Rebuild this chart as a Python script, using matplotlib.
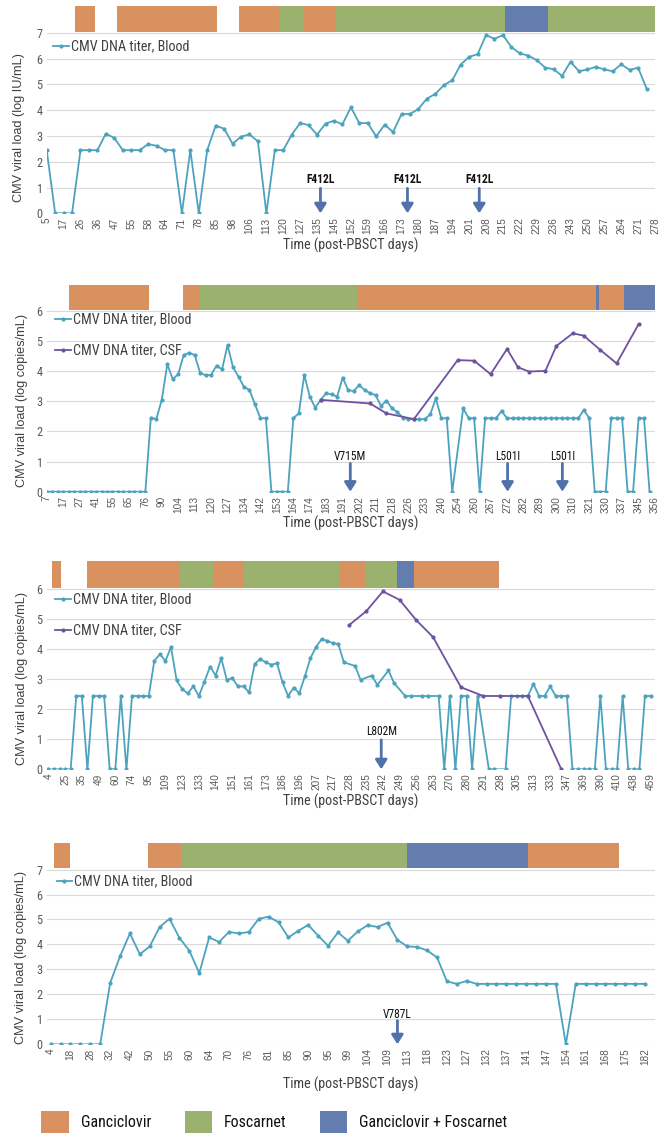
import numpy as np
import matplotlib
matplotlib.use('Agg')
import matplotlib.pyplot as plt
from matplotlib import font_manager as fm
from matplotlib.patches import Patch

nan = np.nan

# ---------------- data (x = sample index on a category axis) ----------------
# panel 1
p1_ticks = [5, 17, 26, 36, 47, 55, 58, 64, 71, 78, 85, 98, 106, 113, 120, 127, 135, 145, 152,
            159, 166, 173, 180, 187, 194, 201, 208, 215, 222, 229, 236, 243, 250, 257, 264, 271, 278]
p1_blood = [2.45, 0, 0, 0, 2.45, 2.45, 2.45, 3.09, 2.92, 2.45, 2.45, 2.45, 2.68, 2.62, 2.45, 2.45,
            0, 2.45, 0, 2.45, 3.40, 3.28, 2.70, 2.97, 3.06, 2.79, 0, 2.45, 2.45, 3.05, 3.50, 3.42,
            3.05, 3.48, 3.59, 3.45, 4.11, 3.50, 3.50, 2.98, 3.44, 3.15, 3.85, 3.85, 4.05, 4.45, 4.63,
            4.97, 5.16, 5.77, 6.07, 6.17, 6.91, 6.77, 6.91, 6.45, 6.20, 6.12, 5.94, 5.65, 5.59, 5.33,
            5.88, 5.51, 5.58, 5.68, 5.58, 5.51, 5.78, 5.56, 5.65, 4.84]
p1_tx = [(3.3, 5.7, 'G'), (8.3, 20.2, 'G'), (22.8, 27.6, 'G'), (27.6, 30.5, 'F'), (30.5, 34.2, 'G'),
         (34.2, 54.3, 'F'), (54.3, 59.3, 'B'), (59.3, 72.0, 'F')]
p1_mut = [(32.4, 'F412L'), (42.7, 'F412L'), (51.2, 'F412L')]

# panel 2
p2_ticks = [7, 17, 27, 41, 55, 65, 76, 90, 104, 113, 120, 127, 134, 142, 153, 164, 174, 183, 191,
            202, 211, 218, 226, 233, 240, 254, 260, 267, 272, 282, 289, 300, 310, 321, 330, 337, 345, 356]
p2_blood = [0, 0, 0, 0, 0, 0, 0, 0, 0, 0, 0, 0, 0, 0, 0, 0, 0, 0, 0,
            2.46, 2.41, 3.05, 4.23, 3.74, 3.90, 4.54, 4.61, 4.54, 3.95, 3.86, 3.88, 4.19, 4.06, 4.87,
            4.13, 3.82, 3.48, 3.38, 2.90, 2.44, 2.44, 0, 0, 0, 0, 2.44, 2.60, 3.88, 3.16, 2.79, 3.05,
            3.27, 3.23, 3.16, 3.79, 3.38, 3.34, 3.54, 3.38, 3.27, 3.21, 2.85, 3.02, 2.77, 2.64, 2.46,
            2.41, 2.41, 2.41, 2.41, 2.57, 3.10, 2.44, 2.44, 0, nan, 2.77, 2.44, 2.44, 0, 2.44, 2.44,
            2.44, 2.68, 2.44, 2.44, 2.44, 2.44, 2.44, 2.44, 2.44, 2.44, 2.44, 2.44, 2.44, 2.44, 2.44,
            2.44, 2.71, 2.44, 0, 0, 0, 2.44, 2.44, 2.44, 0, 0, 2.44, 2.44, 0, nan]
p2_csf_i = [50, 59, 62, 67, 75, 78, 81, 84, 86, 88, 91, 93, 96, 98, 101, 104, 108]
p2_csf = [3.05, 2.93, 2.60, 2.41, 4.37, 4.35, 3.90, 4.74, 4.13, 3.99, 4.01, 4.84, 5.26, 5.18,
          4.71, 4.26, 5.56]
p2_tx = [(4.0, 18.6, 'G'), (24.9, 27.8, 'G'), (27.8, 56.7, 'F'), (56.7, 100.2, 'G'),
         (100.2, 100.7, 'B'), (100.7, 105.3, 'G'), (105.3, 111.0, 'B')]
p2_mut = [(55.4, 'V715M'), (84.1, 'L501I'), (94.1, 'L501I')]

# panel 3
p3_ticks = [4, 25, 35, 49, 60, 74, 95, 109, 123, 133, 140, 151, 161, 173, 186, 196, 207, 217, 228,
            235, 242, 249, 256, 263, 270, 280, 291, 298, 305, 313, 333, 347, 369, 390, 410, 438, 459]
p3_blood = [0, 0, 0, 0, 0, 2.44, 2.44, 0, 2.44, 2.44, 2.44, 0, 0, 2.44, 0, 2.44, 2.44, 2.44, 2.44,
            3.61, 3.83, 3.61, 4.07, 2.96, 2.67, 2.53, 2.76, 2.44, 2.92, 3.42, 3.12, 3.70, 2.98, 3.03,
            2.76, 2.76, 2.56, 3.51, 3.67, 3.56, 3.48, 3.53, 2.89, 2.44, 2.72, 2.53, 3.09, 3.70, 4.07,
            4.33, 4.28, 4.20, 4.17, 3.56, nan, 3.44, 2.98, nan, 3.12, 2.81, nan, 3.29, 2.87, nan,
            2.44, 2.44, nan, 2.44, 2.44, nan, 2.44, 0, 2.44, 0, 2.44, 2.44, 0, 2.44, nan, 0, 0, nan,
            0, 2.44, 2.44, 2.44, 2.44, 2.84, 2.44, 2.44, 2.76, 2.44, 2.44, 2.44, 0, 0, 0, 0, 0, 2.44,
            0, 0, 0, 2.44, 0, 0, 0, 2.44, 2.44]
p3_csf_i = [54, 57, 60, 63, 66, 69, 74, 78, 81, 86, 92]
p3_csf = [4.81, 5.26, 5.92, 5.64, 4.96, 4.40, 2.73, 2.44, 2.44, 2.44, 0]
p3_tx = [(0.7, 2.3, 'G'), (6.9, 23.6, 'G'), (23.6, 29.6, 'F'), (29.6, 35.0, 'G'), (35.0, 52.2, 'F'),
         (52.2, 56.8, 'G'), (56.8, 62.5, 'F'), (62.5, 65.5, 'B'), (65.5, 80.8, 'G')]
p3_mut = [(59.7, 'L802M')]

# panel 4
p4_ticks = [4, 18, 28, 32, 42, 50, 55, 60, 64, 70, 76, 81, 85, 90, 95, 99, 104, 109, 113, 118,
            123, 127, 132, 137, 141, 147, 154, 161, 168, 175, 182]
p4_blood = [0, 0, 0, 0, 0, 0, 2.45, 3.52, 4.44, 3.61, 3.92, 4.70, 5.03, 4.26, 3.75, 2.85, 4.28,
            4.10, 4.50, 4.44, 4.50, 5.03, 5.11, 4.89, 4.28, 4.55, 4.78, 4.35, 3.95, 4.48, 4.15, 4.52,
            4.77, 4.70, 4.87, 4.18, 3.92, 3.90, 3.76, 3.48, 2.52, 2.42, 2.54, 2.42, 2.42, 2.42, 2.42,
            2.42, 2.42, 2.42, 2.42, 2.42, 0, 2.42, 2.42, 2.42, 2.42, 2.42, 2.42, 2.42, 2.42]
p4_tx = [(0.3, 1.95, 'G'), (9.8, 13.2, 'G'), (13.2, 36.0, 'F'), (36.0, 48.2, 'B'), (48.2, 57.4, 'G')]
p4_mut = [(35.0, 'V787L')]

drug_names = {'G': 'Ganciclovir', 'F': 'Foscarnet', 'B': 'Ganciclovir + Foscarnet'}

# ---------------- style ----------------
TX_COL = {'G': '#D8915F', 'F': '#9BB26E', 'B': '#637DAE'}
BLOOD = '#4CA3BE'
CSF = '#6F529F'
ARROW = '#5171AA'
GREY = '#595959'

installed = {f.name for f in fm.fontManager.ttflist}
if 'Roboto Condensed' in installed:
    NARROW, k = 'Roboto Condensed', 1.0
elif 'Archivo Narrow' in installed:
    NARROW, k = 'Archivo Narrow', 1.0
else:
    NARROW, k = 'DejaVu Sans', 0.82
REG = 'Liberation Sans' if 'Liberation Sans' in installed else 'DejaVu Sans'

fig = plt.figure(figsize=(6.69, 11.46), dpi=100)


def draw(rect, ticks, step, blood, csf_i, csf, tx, muts, ymax, bar_lo, bar_hi, xlim,
         ylabel, ylab_x, ylab_y, xlab_y, leg_xy, leg_gap, mut_y, arrow_top, bold):
    ax = fig.add_axes(rect)
    b = np.array(blood, dtype=float)
    x = np.arange(len(b))
    ok = ~np.isnan(b)
    hb, = ax.plot(x[ok], b[ok], color=BLOOD, lw=1.3, marker='o', ms=2.0,
                  label='CMV DNA titer, Blood', zorder=3)
    handles = [hb]
    if csf is not None:
        hc, = ax.plot(csf_i, csf, color=CSF, lw=1.3, marker='o', ms=2.0,
                      label='CMV DNA titer, CSF', zorder=3)
        handles.append(hc)

    # treatment bars above the plot
    for s, e, d in tx:
        ax.bar(s, bar_hi - bar_lo, width=e - s, bottom=bar_lo, align='edge',
               color=TX_COL[d], lw=0, zorder=2)

    # resistance mutations
    for xi, name in muts:
        ax.annotate('', xy=(xi, 0.0), xytext=(xi, arrow_top),
                    arrowprops=dict(arrowstyle='-|>,head_length=0.55,head_width=0.35',
                                    mutation_scale=10, color=ARROW, lw=2.0,
                                    shrinkA=0, shrinkB=0), zorder=4)
        ax.text(xi, mut_y, name, ha='center', va='center', fontsize=8.3 * k,
                family=NARROW, fontweight='bold' if bold else 'normal', color='#111111')

    ax.set_xlim(*xlim)
    ax.set_ylim(0, bar_hi + 0.02)
    ax.set_yticks(range(ymax + 1))
    ax.set_yticklabels([str(v) for v in range(ymax + 1)], family=NARROW,
                       fontsize=8.8 * k, color=GREY)
    ax.set_xticks(range(0, step * (len(ticks) - 1) + 1, step))
    ax.set_xticklabels([str(t) for t in ticks], rotation=90, family=REG,
                       fontsize=7.2, color=GREY)
    ax.tick_params(length=0, pad=3)
    ax.grid(axis='y', color='#D9D9D9', lw=0.8, zorder=0)
    ax.set_axisbelow(True)
    for sp in ax.spines.values():
        sp.set_visible(False)

    ax.set_ylabel(ylabel, family=REG, fontsize=9.2, color='#404040')
    ax.yaxis.set_label_coords(ylab_x, ylab_y)
    ax.set_xlabel('Time (post-PBSCT days)', family=NARROW, fontsize=10.2 * k, color='#404040')
    ax.xaxis.set_label_coords(0.5, xlab_y)

    ax.legend(handles=handles, loc='center left', bbox_to_anchor=leg_xy, frameon=False,
              borderpad=0, borderaxespad=0, handlelength=1.1, handletextpad=0.15,
              labelspacing=leg_gap, prop=dict(family=NARROW, size=10.2 * k),
              labelcolor='#404040')
    return ax


H = 1146.0
W = 669.0
left = 46.7 / W
width = (655 - 46.7) / W

draw((left, 1 - 213.3 / H, width, (213.3 - 5.0) / H), p1_ticks, 2, p1_blood, None, None,
     p1_tx, p1_mut, 7, 7.04, 8.06, (0, 72), 'CMV viral load (log IU/mL)',
     -0.036, 0.414, -0.116, (0.0104, 0.80), 0.5, 1.30, 0.97, True)

draw((left, 1 - 491.7 / H, width, (491.7 - 283.9) / H), p2_ticks, 3, p2_blood, p2_csf_i, p2_csf,
     p2_tx, p2_mut, 6, 6.03, 6.88, (0, 111), 'CMV viral load (log copies/mL)',
     -0.031, 0.441, -0.115, (0.0136, 0.753), 1.2, 1.16, 0.94, False)

draw((left, 1 - 769.3 / H, width, (769.3 - 560.8) / H), p3_ticks, 3, p3_blood, p3_csf_i, p3_csf,
     p3_tx, p3_mut, 6, 6.03, 6.92, (-0.3, 108.8), 'CMV viral load (log copies/mL)',
     -0.031, 0.438, -0.116, (0.0136, 0.739), 1.2, 1.26, 0.98, False)

draw((left, 1 - 1044.3 / H, width, (1044.3 - 842.1) / H), p4_ticks, 2, p4_blood, None, None,
     p4_tx, p4_mut, 7, 7.05, 8.08, (-0.4, 61), 'CMV viral load (log copies/mL)',
     -0.033, 0.432, -0.159, (0.0164, 0.804), 0.5, 1.20, 0.95, False)

# drug legend at the bottom
leg_handles = [Patch(facecolor=TX_COL[c], edgecolor='none', label=drug_names[c]) for c in 'GFB']
fig.legend(handles=leg_handles, loc='center', bbox_to_anchor=(0.41, 1 - 1122 / H), ncol=3,
           frameon=False, handlelength=1.7, handleheight=1.7, handletextpad=0.75,
           columnspacing=2.1, prop=dict(family=NARROW, size=11.5 * k), labelcolor='#111111')

fig.savefig('out.png', dpi=100)
